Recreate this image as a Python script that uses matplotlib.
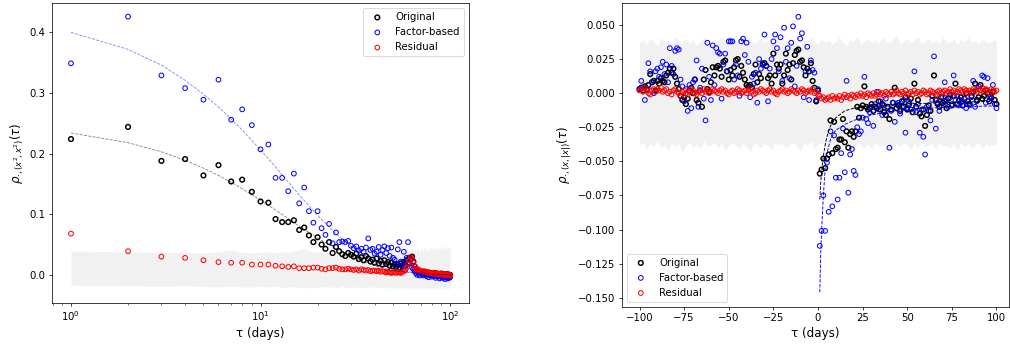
import numpy as np
import matplotlib.pyplot as plt

plt.rcParams['font.size'] = 11

# ---- left panel: rho(x^2, x^2), lags 1..100 (values in units of 1e-3)
lag_l = np.arange(1, 101)
orig_l = [224, 244, 188, 191, 164, 181, 154, 157, 137, 121,
          119, 92, 87, 87, 90, 74, 78, 65, 54, 62,
          50, 43, 54, 36, 46, 39, 34, 31, 36, 33,
          30, 35, 26, 29, 24, 31, 27, 22, 25, 20,
          27, 19, 23, 17, 24, 18, 21, 15, 20, 14,
          18, 13, 17, 12, 19, 14, 21, 16, 24, 19,
          28, 25, 30, 22, 14, 9, 6, 4, 5, 3,
          4, 2, 5, 3, 1, 4, 2, 0, 3, 1,
          2, -1, 3, 0, 2, -2, 1, 0, -1, 2,
          0, -2, 1, -1, 0, -3, 1, -2, -1, 0]
fact_l = [349, 426, 329, 308, 289, 322, 256, 273, 247, 207,
          215, 160, 160, 138, 167, 118, 144, 105, 86, 105,
          77, 66, 84, 52, 70, 54, 55, 54, 56, 48,
          44, 47, 40, 43, 38, 45, 60, 41, 43, 35,
          38, 46, 33, 41, 47, 36, 44, 31, 45, 28,
          25, 18, 42, 54, 22, 16, 38, 14, 28, 54,
          20, 25, 12, 10, 6, 3, 0, 5, -1, 2,
          2, -1, 5, 0, -2, 3, -4, 1, -1, -3,
          0, -2, 2, -5, -1, -3, 0, -6, -2, -4,
          -1, -5, -3, -7, -2, -4, -6, -3, -5, -4]
resid_l = [68, 39, 30, 28, 24, 21, 20, 20, 17, 17,
           17, 15, 14, 13, 14, 11, 11, 11, 12, 12,
           10, 9, 11, 11, 12, 10, 9, 9, 10, 9,
           8, 9, 7, 9, 8, 7, 8, 6, 7, 7,
           6, 7, 5, 6, 5, 4, 5, 4, 3, 4,
           4, 3, 5, 4, 3, 5, 6, 8, 12, 18,
           24, 29, 27, 20, 14, 10, 8, 9, 7, 6,
           6, 5, 6, 4, 5, 4, 3, 4, 3, 3,
           2, 3, 2, 3, 1, 2, 2, 1, 2, 1,
           1, 0, 1, 0, 1, 0, -1, 0, 0, -1]
band_hi_l = [39, 38, 37, 37, 36, 38, 41, 37, 36, 37,
             38, 36, 38, 37, 39, 41, 44, 40, 38, 37,
             39, 36, 35, 37, 34, 36, 38, 35, 37, 36,
             38, 35, 39, 36, 37, 40, 35, 38, 36, 39,
             37, 41, 36, 38, 40, 35, 39, 37, 42, 36,
             38, 40, 37, 43, 36, 39, 41, 38, 44, 37,
             40, 38, 45, 39, 42, 37, 44, 40, 38, 46,
             41, 39, 47, 38, 43, 40, 45, 39, 48, 42,
             44, 40, 47, 41, 45, 39, 44, 48, 42, 46,
             43, 47, 41, 45, 48, 44, 46, 42, 47, 45]
band_lo_l = [-17, -18, -19, -18, -19, -20, -19, -20, -20, -19,
             -20, -19, -21, -20, -19, -21, -20, -22, -20, -21,
             -19, -20, -21, -19, -22, -20, -19, -21, -20, -22,
             -20, -21, -19, -22, -20, -21, -23, -20, -19, -21,
             -22, -20, -21, -19, -23, -21, -20, -22, -19, -21,
             -23, -20, -22, -21, -19, -24, -20, -22, -21, -23,
             -20, -22, -24, -21, -19, -23, -22, -20, -24, -21,
             -22, -19, -23, -21, -24, -20, -22, -23, -21, -19,
             -24, -22, -20, -23, -21, -24, -19, -22, -23, -21,
             -20, -24, -22, -21, -23, -20, -24, -22, -21, -23]
# fitted decay curves, read at a few lags
fit_lag_l = [1, 2, 3, 4, 5, 6, 7, 8, 10, 12, 14, 16, 18, 20, 25, 30, 40, 50, 60, 70, 80, 100]
fit_orig_l = [234, 218, 203, 189, 176, 164, 153, 142, 123, 107, 93, 80, 70, 61,
              43, 31, 15, 7, 4, 2, 1, 0]
fit_fact_l = [400, 372, 346, 321, 298, 277, 257, 239, 206, 178, 153, 132, 114, 98,
              68, 47, 22, 11, 5, 3, 1, 0]

# ---- right panel: rho(x, |x|), lags -100..100 (units of 1e-3)
lag_r = np.arange(-100, 101)
orig_r = [3, 4, 2, 5, 3, 6, 14, 8, 9, 2,
          9, 7, 11, 9, 8, 13, 15, 18, 15, 18,
          12, 7, 3, -2, -5, -3, -8, -4, 2, 4,
          0, 10, -5, -7, 2, -10, 10, 17, 3, 1,
          8, 19, 13, 19, 20, 18, 12, 23, 24, 16,
          10, 17, 13, 19, 24, 25, 12, 20, 15, 10,
          6, 5, 6, 4, 14, 21, 8, 14, 11, 21,
          22, 20, 11, 13, 7, 29, 13, 21, 18, 21,
          7, 13, 29, 17, 21, 10, 22, 28, 31, 32,
          23, 24, 19, 13, 18, 16, 22, 9, 4, -6,
          2,
          -59, -56, -48, -55, -48, -45, -20, -44, -21, -41,
          -40, -34, -34, -19, -36, -28, -40, -30, -28, -32,
          -28, -10, -18, -11, -9, 5, -10, -12, -11, -8,
          -13, -10, -11, -6, -12, -8, -14, -16, -10, -19,
          -12, -7, 4, -11, -9, -13, -6, -10, -3, -12,
          -8, -4, -14, 7, -10, -5, -15, -17, -12, -24,
          -16, -9, -13, -2, 13, -5, -8, -10, -3, -7,
          -6, -11, -4, -1, -9, -2, 7, -8, -5, -3,
          -9, -4, 0, -6, -8, -2, 1, 7, -5, -3,
          6, -4, -2, 2, 0, -6, -3, 1, -5, -8]
fact_r = [3, 9, 4, -5, 2, 22, 16, 8, 0, 16,
          18, 12, 19, 23, 14, 21, 8, 33, 20, 14,
          31, 33, 32, 10, 5, -6, 3, -13, 6, -11,
          8, 10, 24, -10, 4, 18, -4, -20, 37, 12,
          -5, 35, 6, 33, 30, 29, -4, 21, 29, 16,
          38, 38, 38, 10, 21, 13, -2, 38, 40, 28,
          37, 23, -3, 12, 7, 15, -7, 25, 18, 22,
          43, 20, -6, 18, 25, 38, 43, 33, 16, 41,
          9, 48, 23, 33, 11, 37, 49, 5, 20, 56,
          40, 44, -3, 16, 34, -5, 24, 17, 15, -5,
          3,
          -112, -101, -75, -101, -51, -87, -28, -83, -31, -62,
          -78, -62, -44, -26, -58, 9, -73, -45, -41, -57,
          -60, -25, -30, -28, -18, 12, -19, -22, -14, -10,
          -24, -8, 1, -12, -6, -16, -9, -4, -11, -40,
          -13, -7, -21, -8, -7, -15, -10, -5, -29, -11,
          -6, -12, -9, 16, -14, -8, -29, -12, -32, -45,
          -10, -13, -20, -5, 27, -26, -7, -13, -9, -3,
          8, -6, -10, -3, -8, 13, -5, -2, -9, -7,
          -6, -4, -11, -8, -9, -3, 9, -10, -6, 5,
          2, 13, 12, -7, 11, -3, -4, 6, -8, -11]
resid_r = [2, 3, 1, 4, 2, 0, -1, 2, 3, 1,
           3, 2, 4, 1, 2, 3, 0, 1, -1, 2,
           3, 1, 0, -2, 1, 2, 0, -1, 1, 3,
           2, 0, -1, 1, 2, 0, 3, 1, 2, 0,
           1, 3, 2, 1, 0, 2, 3, 1, 2, 0,
           -1, 1, 2, 0, 1, 3, 2, 0, 1, 2,
           0, 2, 3, 1, -1, 0, 2, 1, 3, 2,
           1, 0, 2, 3, 1, 2, 0, -1, 1, 2,
           3, 1, 2, 0, 1, 3, 2, 1, 0, 2,
           1, 3, 2, 0, 1, 2, 1, 3, 0, 1,
           -1,
           -2, -4, -3, -5, -4, -3, -5, -2, -4, -3,
           -4, -2, -5, -3, -1, -3, -2, -4, -1, -2,
           -3, -1, -2, 0, -2, -1, -3, 0, -1, -2,
           0, -2, -1, 1, -1, 0, -2, 1, 0, -1,
           1, -1, 0, 2, 0, -1, 1, 0, 2, -1,
           0, 1, -1, 2, 0, 1, -1, 0, 2, 1,
           -1, 0, 2, 1, 0, -1, 1, 2, 0, 1,
           2, 0, 1, 3, 1, 2, 0, 1, 3, 2,
           1, 3, 2, 0, 2, 1, 3, 2, 1, 3,
           2, 4, 1, 3, 2, 0, 3, 2, 1, 2]
# confidence band, every second lag
band_lag_r = np.arange(-100, 101, 2)
band_hi_r = [37, 39, 36, 40, 38, 35, 41, 37, 39, 36,
             42, 38, 36, 40, 37, 39, 35, 38, 41, 37,
             36, 39, 38, 42, 36, 37, 40, 38, 35, 39,
             37, 41, 36, 38, 40, 37, 39, 36, 38, 42,
             37, 39, 36, 40, 38, 35, 39, 37, 41, 38,
             36,
             40, 37, 39, 36, 38, 41, 37, 35, 39, 38,
             42, 36, 38, 40, 37, 39, 36, 41, 38, 37,
             39, 43, 36, 38, 40, 37, 39, 42, 36, 38,
             40, 37, 39, 36, 41, 38, 37, 40, 36, 39,
             38, 41, 37, 39, 36, 40, 38, 37, 39, 38]
band_lo_r = [-38, -36, -41, -37, -39, -35, -40, -38, -42, -36,
             -39, -37, -43, -38, -36, -40, -37, -41, -35, -39,
             -38, -36, -40, -37, -42, -39, -36, -38, -41, -37,
             -39, -43, -36, -38, -40, -37, -39, -41, -36, -38,
             -37, -40, -38, -36, -39, -42, -37, -38, -35, -40,
             -38,
             -36, -39, -41, -37, -38, -36, -40, -37, -39, -42,
             -36, -38, -40, -37, -41, -36, -39, -38, -37, -40,
             -42, -37, -39, -36, -38, -41, -37, -40, -36, -39,
             -38, -37, -41, -36, -39, -38, -40, -37, -42, -36,
             -39, -37, -40, -38, -36, -41, -37, -39, -38, -37]
fit_lag_r = [1, 1.5, 2, 3, 4, 5, 7, 10, 15, 20, 30, 40, 60, 80, 100]
fit_orig_r = [-78, -66, -58, -46, -38, -32, -24, -18, -13, -11, -9, -8.5, -7.5, -6.5, -6]
fit_fact_r = [-146, -118, -101, -75, -56, -44, -34, -27, -23, -20, -16, -13.5, -11, -10, -9.3]

s = 1e-3
fig = plt.figure(figsize=(1010 / 66, 345 / 66), dpi=66)
ax1 = fig.add_axes([0.0515, 0.1217, 0.4129, 0.8696])
ax2 = fig.add_axes([0.6155, 0.111, 0.3835, 0.8794])

ms = 26
# left
ax1.fill_between(lag_l, np.array(band_lo_l) * s, np.array(band_hi_l) * s,
                 color='0.945', lw=0)
ax1.scatter(lag_l, np.array(orig_l) * s, s=ms, facecolors='none', edgecolors='k',
            linewidths=1.6, label='Original')
ax1.scatter(lag_l, np.array(fact_l) * s, s=ms, facecolors='none', edgecolors='b',
            linewidths=1.1, label='Factor-based')
ax1.scatter(lag_l, np.array(resid_l) * s, s=ms, facecolors='none', edgecolors='r',
            linewidths=1.1, label='Residual')
ax1.plot(fit_lag_l, np.array(fit_orig_l) * s, '--', color='k', alpha=0.5, lw=0.9)
ax1.plot(fit_lag_l, np.array(fit_fact_l) * s, '--', color='b', alpha=0.5, lw=0.9)
ax1.set_xscale('log')
ax1.set_xlabel('τ (days)', fontsize=13)
ax1.set_ylabel(r'$\rho_{\cdot,(x^2,x^2)}(\tau)$', fontsize=13)
ax1.legend(loc='upper right')

# right
ax2.fill_between(band_lag_r, np.array(band_lo_r) * s, np.array(band_hi_r) * s,
                 color='0.945', lw=0)
ax2.scatter(lag_r, np.array(orig_r) * s, s=ms, facecolors='none', edgecolors='k',
            linewidths=1.6, label='Original')
ax2.scatter(lag_r, np.array(fact_r) * s, s=ms, facecolors='none', edgecolors='b',
            linewidths=1.1, label='Factor-based')
ax2.scatter(lag_r, np.array(resid_r) * s, s=ms, facecolors='none', edgecolors='r',
            linewidths=1.1, label='Residual')
ax2.plot(fit_lag_r, np.array(fit_orig_r) * s, '--', color='k', lw=1.0)
ax2.plot(fit_lag_r, np.array(fit_fact_r) * s, '--', color='b', lw=1.0)
ax2.set_xlim(-110, 107)
ax2.set_ylim(-0.1566, 0.0659)
ax2.set_xticks([-100, -75, -50, -25, 0, 25, 50, 75, 100])
ax2.set_xlabel('τ (days)', fontsize=13)
ax2.set_ylabel(r'$\rho_{\cdot,(x,|x|)}(\tau)$', fontsize=13)
ax2.legend(loc='lower left')

fig.savefig('out.png', dpi=66)
